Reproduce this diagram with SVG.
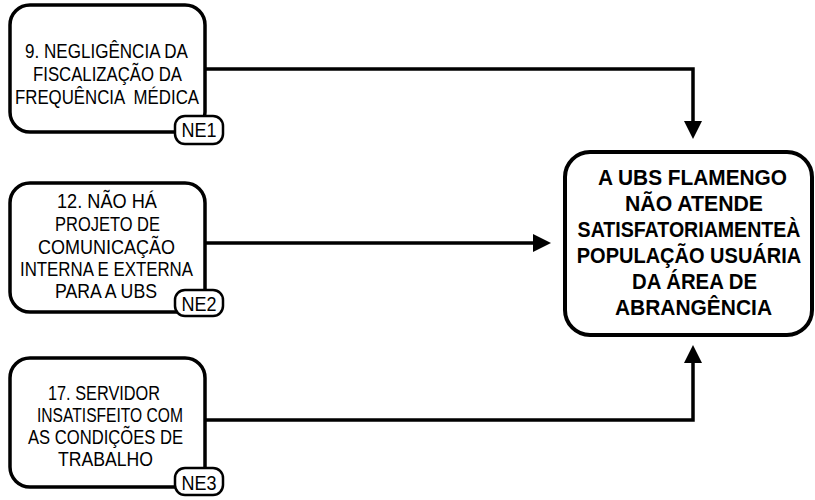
<svg xmlns="http://www.w3.org/2000/svg" width="815" height="500" viewBox="0 0 815 500">
<style>
.box{fill:#fff;stroke:#000;stroke-width:3.5}
.badge{fill:#fff;stroke:#000;stroke-width:2.5}
.t{font-family:"Liberation Sans",Arial,sans-serif;font-size:19.5px;fill:#000;text-anchor:middle;white-space:pre}
.b{font-family:"Liberation Sans",Arial,sans-serif;font-size:22.5px;font-weight:bold;fill:#000;text-anchor:middle}
.c{fill:none;stroke:#000;stroke-width:3.5}
</style>
<rect width="815" height="500" fill="#fff"/>
<g id="connectors">
<path class="c" d="M205,69 H693 V122"/>
<path d="M684,121 L702,121 L693,139 Z"/>
<path class="c" d="M205,243 H534"/>
<path d="M533,234 L551,243 L533,252 Z"/>
<path class="c" d="M205,420 H693 V362"/>
<path d="M684,363 L702,363 L693,345 Z"/>
</g>
<g id="ne1">
<rect class="box" x="10" y="5" width="195" height="127" rx="20"/>
<text class="t" x="106.5" y="58" textLength="163" lengthAdjust="spacingAndGlyphs">9. NEGLIGÊNCIA DA</text>
<text class="t" x="107.5" y="81" textLength="149" lengthAdjust="spacingAndGlyphs">FISCALIZAÇÃO DA</text>
<text class="t" x="107" y="104" textLength="184" lengthAdjust="spacingAndGlyphs">FREQUÊNCIA  MÉDICA</text>
<rect class="badge" x="175" y="116" width="48" height="28" rx="10"/>
<text class="t" x="199" y="137" textLength="35" lengthAdjust="spacingAndGlyphs">NE1</text>
</g>
<g id="ne2">
<rect class="box" x="10" y="183" width="195" height="129" rx="20"/>
<text class="t" x="107" y="208" textLength="100" lengthAdjust="spacingAndGlyphs">12. NÃO HÁ</text>
<text class="t" x="107.5" y="231" textLength="105" lengthAdjust="spacingAndGlyphs">PROJETO DE</text>
<text class="t" x="106.5" y="254" textLength="137" lengthAdjust="spacingAndGlyphs">COMUNICAÇÃO</text>
<text class="t" x="106.5" y="276" textLength="173" lengthAdjust="spacingAndGlyphs">INTERNA E EXTERNA</text>
<text class="t" x="106" y="298" textLength="102" lengthAdjust="spacingAndGlyphs">PARA A UBS</text>
<rect class="badge" x="175" y="290" width="48" height="26" rx="10"/>
<text class="t" x="199" y="311" textLength="35" lengthAdjust="spacingAndGlyphs">NE2</text>
</g>
<g id="ne3">
<rect class="box" x="10" y="358" width="195" height="129" rx="20"/>
<text class="t" x="104" y="400" textLength="112" lengthAdjust="spacingAndGlyphs">17. SERVIDOR</text>
<text class="t" x="110" y="422" textLength="146" lengthAdjust="spacingAndGlyphs">INSATISFEITO COM</text>
<text class="t" x="105.5" y="444" textLength="155" lengthAdjust="spacingAndGlyphs">AS CONDIÇÕES DE</text>
<text class="t" x="105.5" y="466" textLength="95" lengthAdjust="spacingAndGlyphs">TRABALHO</text>
<rect class="badge" x="175" y="468" width="48" height="27" rx="10"/>
<text class="t" x="199" y="490" textLength="35" lengthAdjust="spacingAndGlyphs">NE3</text>
</g>
<g id="main">
<rect class="box" x="565" y="152" width="247" height="183" rx="25" style="stroke-width:4"/>
<text class="b" x="692.5" y="185" textLength="189" lengthAdjust="spacingAndGlyphs">A UBS FLAMENGO</text>
<text class="b" x="694" y="211" textLength="138" lengthAdjust="spacingAndGlyphs">NÃO ATENDE</text>
<text class="b" transform="translate(689,237) scale(0.87,1)" x="0" y="0">SATISFATORIAMENTEÀ</text>
<text class="b" transform="translate(689,263) scale(0.89,1)" x="0" y="0">POPULAÇÃO USUÁRIA</text>
<text class="b" x="694.5" y="289" textLength="125" lengthAdjust="spacingAndGlyphs">DA ÁREA DE</text>
<text class="b" x="693.5" y="315" textLength="157" lengthAdjust="spacingAndGlyphs">ABRANGÊNCIA</text>
</g>
</svg>
